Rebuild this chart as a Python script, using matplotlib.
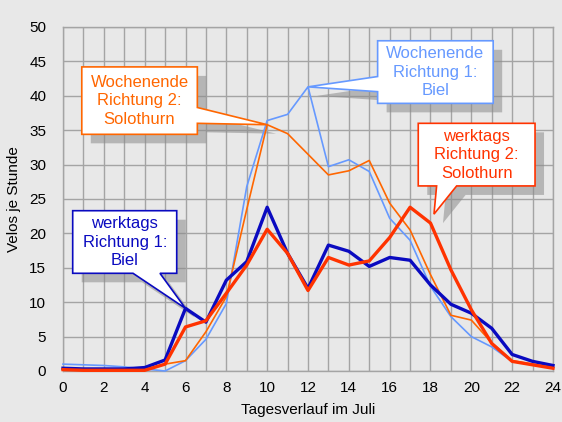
import matplotlib
matplotlib.use("Agg")
import matplotlib.pyplot as plt
from matplotlib.patches import Polygon
from matplotlib.transforms import ScaledTranslation

# Stunden des Tages und Velos je Stunde
hours = list(range(25))
werktags_r1 = [0.4, 0.3, 0.3, 0.3, 0.5, 1.6, 9.1, 7.1, 13.2, 15.9, 23.8, 17.1, 12.0,
               18.3, 17.4, 15.2, 16.5, 16.1, 12.5, 9.7, 8.4, 6.2, 2.4, 1.4, 0.8]
werktags_r2 = [0.2, 0.1, 0.1, 0.1, 0.1, 1.0, 6.4, 7.3, 11.3, 15.4, 20.6, 17.1, 11.7,
               16.5, 15.4, 16.0, 19.4, 23.8, 21.5, 14.7, 8.9, 4.0, 1.4, 0.9, 0.4]
wochenende_r1 = [1.0, 0.9, 0.8, 0.6, 0.3, 0.0, 1.5, 4.6, 9.8, 26.8, 36.4, 37.3, 41.3,
                 29.7, 30.7, 29.0, 22.2, 19.0, 12.3, 7.9, 5.0, 3.5, 1.4, 0.9, 0.6]
wochenende_r2 = [0.4, 0.3, 0.2, 0.2, 0.2, 1.0, 1.5, 5.7, 10.8, 23.5, 35.8, 34.5, 31.5,
                 28.5, 29.1, 30.6, 24.4, 20.5, 14.0, 8.1, 7.4, 4.1, 1.5, 1.0, 0.5]

x_ticks = list(range(0, 25, 2))
y_ticks = list(range(0, 51, 5))

BG = "#E8E8E8"
GRID = "#A4A4A4"
DARKBLUE = "#0A0AC0"
RED = "#FF3300"
ORANGE = "#FF6600"
LIGHTBLUE = "#6699FF"

plt.rcParams['font.family'] = ['Liberation Sans', 'DejaVu Sans']

fig = plt.figure(figsize=(5.62, 4.22), dpi=100, facecolor=BG)
ax = fig.add_axes([63/562, 51/422, 490/562, 344/422])
ax.set_facecolor(BG)

ax.set_xlim(0, 24)
ax.set_ylim(0, 50)
ax.set_xticks(x_ticks)
ax.set_yticks(y_ticks)
ax.set_xticks(hours, minor=True)
ax.grid(True, which="both", color=GRID, lw=1.0)
ax.set_axisbelow(True)
ax.tick_params(which="both", length=0, labelsize=11)
ax.tick_params(axis="x", pad=7)
ax.tick_params(axis="y", pad=12)
for s in ax.spines.values():
    s.set_color(GRID)
    s.set_linewidth(1.0)

ax.set_xlabel("Tagesverlauf im Juli", fontsize=11, labelpad=6)
ax.set_ylabel("Velos je Stunde", fontsize=11, labelpad=6)

ax.plot(hours, wochenende_r1, color=LIGHTBLUE, lw=1.2, zorder=3, clip_on=False)
ax.plot(hours, wochenende_r2, color=ORANGE, lw=1.2, zorder=3, clip_on=False)
ax.plot(hours, werktags_r1, color=DARKBLUE, lw=2.4, zorder=4, clip_on=False)
ax.plot(hours, werktags_r2, color=RED, lw=2.4, zorder=5, clip_on=False)

shadow_tr = ax.transData + ScaledTranslation(0.09, -0.09, fig.dpi_scale_trans)


def callout(pts, text, color, center):
    ax.add_patch(Polygon(pts, closed=True, facecolor="#8C8C8C", edgecolor="none",
                         alpha=0.55, hatch="....", transform=shadow_tr, zorder=2))
    ax.add_patch(Polygon(pts, closed=True, facecolor="white", edgecolor=color,
                         lw=1.2, zorder=6))
    ax.text(center[0], center[1], text, color=color, fontsize=12, ha="center",
            va="center", linespacing=1.3, zorder=7)


# Wochenende Richtung 2
x0, x1, y0, y1 = 0.92, 6.58, 34.4, 44.2
tip = (10, wochenende_r2[10])
callout([(x0, y0), (x1, y0), (x1, 36.0), tip, (x1, 38.3), (x1, y1), (x0, y1)],
        "Wochenende\nRichtung 2:\nSolothurn", ORANGE, ((x0 + x1) / 2, (y0 + y1) / 2))

# Wochenende Richtung 1
x0, x1, y0, y1 = 15.41, 21.07, 38.9, 48.0
tip = (12, wochenende_r1[12])
callout([(x0, y0), (x1, y0), (x1, y1), (x0, y1), (x0, 42.8), tip, (x0, 40.6)],
        "Wochenende\nRichtung 1:\nBiel", LIGHTBLUE, ((x0 + x1) / 2, (y0 + y1) / 2))

# werktags Richtung 2
x0, x1, y0, y1 = 17.40, 23.12, 26.9, 36.0
tip = (18.17, 22.8)
callout([(x0, y0), (18.30, y0), tip, (19.28, y0), (x1, y0), (x1, y1), (x0, y1)],
        "werktags\nRichtung 2:\nSolothurn", RED, ((x0 + x1) / 2, (y0 + y1) / 2))

# werktags Richtung 1
x0, x1, y0, y1 = 0.475, 5.57, 14.2, 23.3
tip = (6, werktags_r1[6])
callout([(x0, y0), (3.43, y0), tip, (4.75, y0), (x1, y0), (x1, y1), (x0, y1)],
        "werktags\nRichtung 1:\nBiel", DARKBLUE, ((x0 + x1) / 2, (y0 + y1) / 2))

fig.savefig("out.png", dpi=100, facecolor=BG)
